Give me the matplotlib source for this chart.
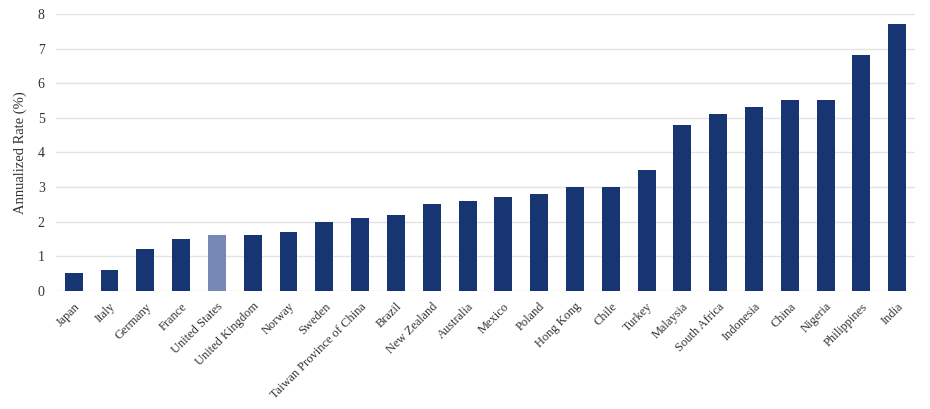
import matplotlib.pyplot as plt

# Annualized rate by country (%)
countries = ["Japan", "Italy", "Germany", "France", "United States", "United Kingdom",
             "Norway", "Sweden", "Taiwan Province of China", "Brazil", "New Zealand",
             "Australia", "Mexico", "Poland", "Hong Kong", "Chile", "Turkey", "Malaysia",
             "South Africa", "Indonesia", "China", "Nigeria", "Philippines", "India"]
rates = [0.5, 0.6, 1.2, 1.5, 1.6, 1.6, 1.7, 2.0, 2.1, 2.2, 2.5, 2.6, 2.7, 2.8,
         3.0, 3.0, 3.5, 4.8, 5.1, 5.3, 5.5, 5.5, 6.8, 7.7]
highlight = "United States"

plt.rcParams['font.family'] = ['Liberation Serif', 'DejaVu Serif']

fig = plt.figure(figsize=(9.3, 4.09), dpi=100)
ax = fig.add_axes([0.06, 0.289, 0.924, 0.677])

colors = ["#7888b5" if c == highlight else "#173573" for c in countries]
x = range(len(countries))
ax.bar(x, rates, width=0.5, color=colors, zorder=3)

ax.set_xlim(-0.5, len(countries) - 0.5)
ax.set_ylim(0, 8)
ax.set_yticks(range(0, 9))
ax.yaxis.grid(True, color="#e3e3e3", linewidth=1, zorder=0)
for s in ax.spines.values():
    s.set_visible(False)
ax.tick_params(axis="both", length=0, colors="#333333")
ax.tick_params(axis="y", labelsize=10, pad=8)
ax.tick_params(axis="x", pad=7)
ax.set_xticks(list(x))
ax.set_xticklabels(countries, rotation=45, ha="right", rotation_mode="anchor",
                   fontsize=8.9)
ax.set_ylabel("Annualized Rate (%)", fontsize=10.5, color="#333333", labelpad=8)

fig.savefig("out.png", dpi=100)
